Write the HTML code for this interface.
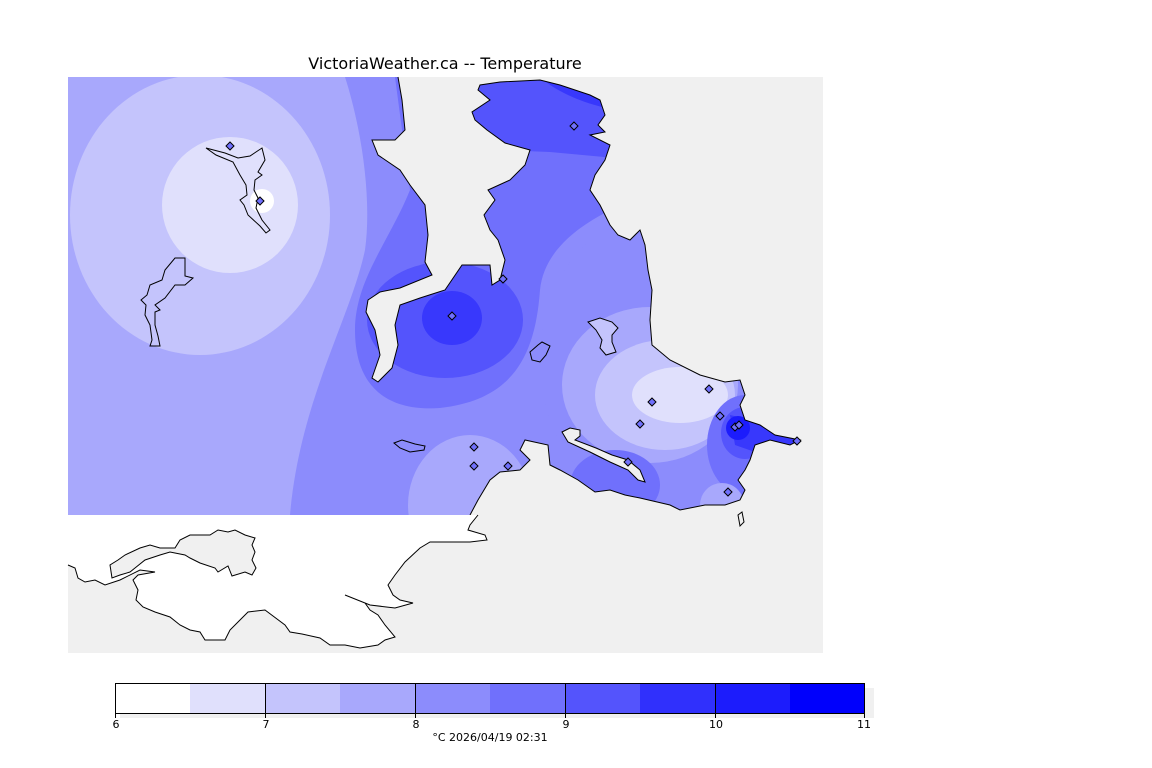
<!DOCTYPE html>
<html><head><meta charset="utf-8"><style>
html,body{margin:0;padding:0;background:#fff;}
svg{display:block;}
text{font-family:"DejaVu Sans","Liberation Sans",sans-serif;}
</style></head><body>
<svg width="1152" height="768" viewBox="0 0 1152 768" xmlns="http://www.w3.org/2000/svg">
<defs>
<clipPath id="cp">
<path d="M68,77 L398,77 L402,100 L405,130 L395,140 L372,140 L378,155 L400,170 L410,185 L425,205 L428,235 L425,262 L432,275 L400,288 L380,292 L368,300 L366,312 L375,330 L380,355 L372,378 L378,382 L392,368 L398,345 L395,325 L400,305 L420,298 L445,290 L462,265 L490,265 L492,285 L500,280 L505,260 L498,240 L490,230 L484,215 L495,200 L488,190 L510,180 L525,165 L530,150 L505,143 L487,130 L475,120 L472,112 L490,100 L478,90 L480,85 L500,82 L540,80 L560,85 L590,95 L600,100 L605,115 L598,125 L605,132 L590,135 L610,145 L605,160 L595,175 L590,190 L600,205 L610,225 L618,235 L630,240 L640,230 L645,245 L648,270 L652,290 L650,320 L652,345 L670,360 L700,375 L725,382 L740,380 L745,395 L740,405 L745,420 L760,425 L775,435 L800,440 L790,445 L770,440 L755,445 L750,460 L745,470 L738,480 L745,490 L740,500 L725,505 L705,505 L680,510 L670,505 L640,498 L625,495 L610,490 L595,492 L578,480 L560,470 L550,465 L548,445 L525,440 L520,450 L530,460 L520,470 L500,472 L490,480 L478,500 L470,515 L68,515 Z"/>
</clipPath>
</defs>
<rect x="68" y="77" width="755" height="576" fill="#f0f0f0"/>
<g clip-path="url(#cp)">
<rect x="68" y="77" width="755" height="440" fill="#8c8cfc"/>
<path d="M68,77 L345,77 C362,130 372,200 365,250 C350,320 300,400 290,515 L68,515 Z" fill="#a8a8fc"/>
<ellipse cx="200" cy="215" rx="130" ry="140" fill="#c4c4fc"/>
<circle cx="230" cy="205" r="68" fill="#e0e0fc"/>
<circle cx="262" cy="201" r="12" fill="#fff"/>
<path d="M395,77 L660,77 L660,190 C600,210 545,240 540,290 C535,360 510,400 440,408 C380,412 355,380 355,330 C355,280 390,240 410,190 Z" fill="#7070fc"/>
<path d="M470,77 L615,77 L615,158 L550,152 L500,150 L470,140 Z" fill="#5454fc"/>
<path d="M540,77 L615,77 L615,110 C590,105 560,95 540,77 Z" fill="#3838fc"/>
<ellipse cx="445" cy="320" rx="78" ry="58" fill="#5454fc"/>
<ellipse cx="430" cy="285" rx="22" ry="22" fill="#5454fc"/>
<ellipse cx="452" cy="318" rx="30" ry="27" fill="#3838fc"/>
<ellipse cx="645" cy="360" rx="105" ry="140" fill="#8c8cfc"/>
<ellipse cx="650" cy="385" rx="88" ry="78" fill="#a8a8fc"/>
<ellipse cx="665" cy="395" rx="70" ry="55" fill="#c4c4fc"/>
<ellipse cx="680" cy="395" rx="48" ry="28" fill="#e0e0fc"/>
<ellipse cx="745" cy="445" rx="38" ry="50" fill="#7070fc"/>
<ellipse cx="745" cy="433" rx="24" ry="26" fill="#5454fc"/>
<path d="M730,415 L760,422 L802,440 L780,448 L755,452 L735,445 Z" fill="#3838fc"/>
<ellipse cx="738" cy="428" rx="12" ry="12" fill="#1c1cfc"/>
<ellipse cx="470" cy="505" rx="62" ry="70" fill="#a8a8fc"/>
<ellipse cx="615" cy="485" rx="45" ry="35" fill="#7070fc"/>
<ellipse cx="722" cy="505" rx="22" ry="22" fill="#a8a8fc"/>
</g>
<path d="M398,77 L402,100 L405,130 L395,140 L372,140 L378,155 L400,170 L410,185 L425,205 L428,235 L425,262 L432,275 L400,288 L380,292 L368,300 L366,312 L375,330 L380,355 L372,378 L378,382 L392,368 L398,345 L395,325 L400,305 L420,298 L445,290 L462,265 L490,265 L492,285 L500,280 L505,260 L498,240 L490,230 L484,215 L495,200 L488,190 L510,180 L525,165 L530,150 L505,143 L487,130 L475,120 L472,112 L490,100 L478,90 L480,85 L500,82 L540,80 L560,85 L590,95 L600,100 L605,115 L598,125 L605,132 L590,135 L610,145 L605,160 L595,175 L590,190 L600,205 L610,225 L618,235 L630,240 L640,230 L645,245 L648,270 L652,290 L650,320 L652,345 L670,360 L700,375 L725,382 L740,380 L745,395 L740,405 L745,420 L760,425 L775,435 L800,440 L790,445 L770,440 L755,445 L750,460 L745,470 L738,480 L745,490 L740,500 L725,505 L705,505 L680,510 L670,505 L640,498 L625,495 L610,490 L595,492 L578,480 L560,470 L550,465 L548,445 L525,440 L520,450 L530,460 L520,470 L500,472 L490,480 L478,500 L470,515" fill="none" stroke="#000" stroke-width="1"/>
<path d="M68,515 L478,515 L470,525 L468,530 L485,535 L487,540 L470,542 L430,542 L420,548 L405,562 L395,575 L388,585 L393,595 L400,600 L413,603 L395,608 L370,605 L345,595 L365,603 L370,610 L378,615 L385,625 L395,637 L385,640 L378,645 L360,648 L345,645 L330,645 L320,638 L302,634 L290,632 L285,625 L265,610 L248,612 L240,620 L230,630 L225,640 L205,640 L200,632 L190,630 L180,625 L170,617 L155,612 L143,607 L136,600 L138,590 L133,580 L138,575 L155,572 L140,570 L120,580 L105,585 L95,580 L85,582 L78,578 L75,568 L68,565 Z" fill="#fff"/>
<path d="M478,515 L470,525 L468,530 L485,535 L487,540 L470,542 L430,542 L420,548 L405,562 L395,575 L388,585 L393,595 L400,600 L413,603 L395,608 L370,605 L345,595 L365,603 L370,610 L378,615 L385,625 L395,637 L385,640 L378,645 L360,648 L345,645 L330,645 L320,638 L302,634 L290,632 L285,625 L265,610 L248,612 L240,620 L230,630 L225,640 L205,640 L200,632 L190,630 L180,625 L170,617 L155,612 L143,607 L136,600 L138,590 L133,580 L138,575 L155,572 L140,570 L120,580 L105,585 L95,580 L85,582 L78,578 L75,568 L68,565" fill="none" stroke="#000"/>
<path d="M112,578 L110,565 L118,560 L125,555 L140,548 L150,545 L160,548 L175,548 L180,540 L190,535 L210,535 L218,530 L228,532 L235,530 L245,535 L255,538 L252,545 L255,552 L252,560 L256,568 L252,575 L245,572 L232,576 L228,566 L218,572 L215,568 L200,563 L190,558 L185,555 L170,552 L160,555 L145,560 L135,568 L130,572 L120,575 Z" fill="#f0f0f0" stroke="#000"/>
<g fill="none" stroke="#000">
<path d="M206,148 L225,153 L238,158 L250,156 L262,148 L265,160 L258,172 L262,175 L255,180 L254,190 L258,198 L256,208 L262,220 L270,230 L266,233 L260,226 L248,215 L244,205 L240,200 L247,195 L246,185 L240,175 L233,162 L216,155 Z"/>
<path d="M185,258 L175,258 L165,270 L162,280 L150,285 L147,295 L141,300 L146,305 L145,315 L150,325 L152,340 L150,346 L160,346 L158,336 L155,325 L155,312 L160,310 L155,305 L165,298 L175,285 L185,285 L193,278 L185,276 Z"/>
<path d="M588,322 L600,318 L612,322 L618,328 L612,335 L612,342 L616,352 L606,355 L600,348 L602,340 L596,330 Z" fill="#c4c4fc"/>
<path d="M530,352 L538,345 L542,342 L550,346 L546,355 L540,362 L532,360 Z" fill="#8c8cfc"/>
<path d="M394,443 L402,440 L415,444 L425,446 L424,450 L410,452 L400,448 Z" fill="#8c8cfc"/>
<path d="M562,432 L570,428 L580,430 L580,436 L575,440 L596,448 L612,455 L628,460 L640,470 L645,482 L638,480 L628,470 L610,462 L590,452 L568,442 Z" fill="#f0f0f0"/>
<path d="M738,515 L742,512 L744,522 L740,526 Z"/>
</g>
<g fill="#7070fc" stroke="#000" stroke-width="1">
<path d="M230,142 l4,4 l-4,4 l-4,-4 z"/><path d="M260,197 l4,4 l-4,4 l-4,-4 z"/>
<path d="M574,122 l4,4 l-4,4 l-4,-4 z"/><path d="M503,275 l4,4 l-4,4 l-4,-4 z"/>
<path d="M452,312 l4,4 l-4,4 l-4,-4 z"/><path d="M652,398 l4,4 l-4,4 l-4,-4 z"/>
<path d="M709,385 l4,4 l-4,4 l-4,-4 z"/><path d="M720,412 l4,4 l-4,4 l-4,-4 z"/>
<path d="M640,420 l4,4 l-4,4 l-4,-4 z"/><path d="M735,423 l4,4 l-4,4 l-4,-4 z"/>
<path d="M739,421 l4,4 l-4,4 l-4,-4 z"/><path d="M474,443 l4,4 l-4,4 l-4,-4 z"/>
<path d="M474,462 l4,4 l-4,4 l-4,-4 z"/><path d="M508,462 l4,4 l-4,4 l-4,-4 z"/>
<path d="M628,458 l4,4 l-4,4 l-4,-4 z"/><path d="M728,488 l4,4 l-4,4 l-4,-4 z"/>
<path d="M797,437 l4,4 l-4,4 l-4,-4 z"/>
</g>
<text x="445" y="69" font-size="16" text-anchor="middle" fill="#000" font-family="Liberation Sans, sans-serif">VictoriaWeather.ca -- Temperature</text>
<rect x="120" y="688" width="754" height="30" fill="#f0f0f0"/>
<rect x="115" y="683" width="75" height="30" fill="#ffffff"/>
<rect x="190" y="683" width="75" height="30" fill="#e0e0fc"/>
<rect x="265" y="683" width="75" height="30" fill="#c4c4fc"/>
<rect x="340" y="683" width="75" height="30" fill="#a8a8fc"/>
<rect x="415" y="683" width="75" height="30" fill="#8c8cfc"/>
<rect x="490" y="683" width="75" height="30" fill="#7070fc"/>
<rect x="565" y="683" width="75" height="30" fill="#5454fc"/>
<rect x="640" y="683" width="75" height="30" fill="#3030fc"/>
<rect x="715" y="683" width="75" height="30" fill="#1c1cfc"/>
<rect x="790" y="683" width="74" height="30" fill="#0000fc"/>
<rect x="115.5" y="683.5" width="749" height="30" fill="none" stroke="#000"/>
<g stroke="#000"><path d="M265.5,683 V718 M415.5,683 V718 M565.5,683 V718 M715.5,683 V718 M115.5,713 V718 M864.5,713 V718"/></g>
<g font-size="11" text-anchor="middle" fill="#000">
<text x="116" y="728">6</text><text x="266" y="728">7</text><text x="416" y="728">8</text><text x="566" y="728">9</text><text x="716" y="728">10</text><text x="864" y="728">11</text>
<text x="490" y="741">°C  2026/04/19 02:31</text>
</g>
</svg>
</body></html>
